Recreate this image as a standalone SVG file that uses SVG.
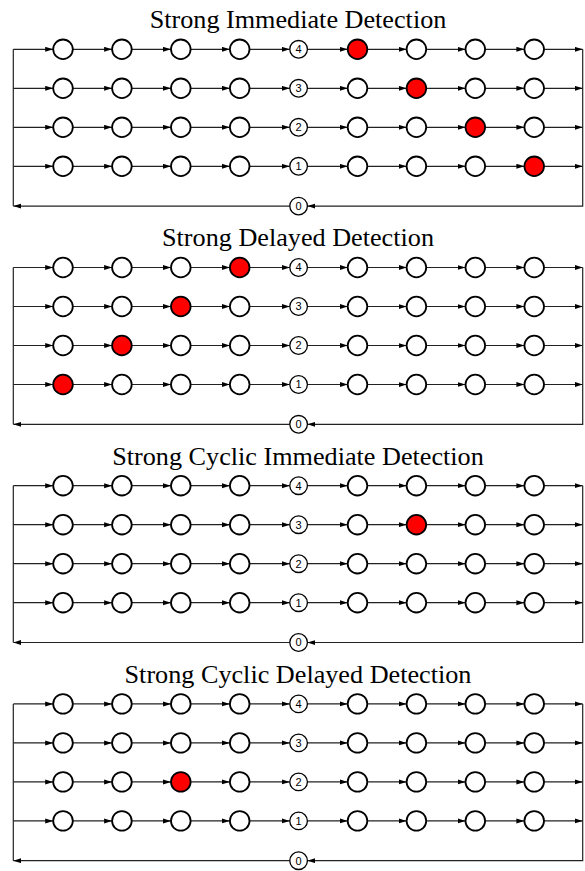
<svg xmlns="http://www.w3.org/2000/svg" width="585" height="871" viewBox="0 0 585 871">
<style>
.bg{fill:#fff}
.title{font-family:"Liberation Serif","Times New Roman",serif;font-size:26.2px;fill:#000;text-anchor:middle}
.n{fill:#fff;stroke:#000;stroke-width:1.8}
.red{fill:#ff0000;stroke:#000;stroke-width:1.8}
.num{fill:#fff;stroke:#000;stroke-width:1.3}
.lbl{font-family:"Liberation Sans",Arial,sans-serif;font-size:11px;fill:#000;text-anchor:middle}
.c path{stroke:#222;stroke-width:1.2;fill:none;marker-end:url(#arr)}
.c .plain{marker-end:none}
</style>
<defs>
<marker id="arr" markerUnits="userSpaceOnUse" markerWidth="9" markerHeight="6" refX="8" refY="2.5" orient="auto">
<path d="M0,0 L8,2.5 L0,5 Z" fill="#000"/>
</marker>
<g id="rowc" stroke="#222" stroke-width="1.2" fill="none" marker-end="url(#arr)">
<line x1="13.3" y1="0" x2="53.2" y2="0"/>
<line x1="72.8" y1="0" x2="112.1" y2="0"/>
<line x1="131.7" y1="0" x2="171" y2="0"/>
<line x1="190.6" y1="0" x2="229.9" y2="0"/>
<line x1="249.5" y1="0" x2="289.8" y2="0"/>
<line x1="307.4" y1="0" x2="347.7" y2="0"/>
<line x1="367.3" y1="0" x2="406.6" y2="0"/>
<line x1="426.2" y1="0" x2="465.5" y2="0"/>
<line x1="485.1" y1="0" x2="524.4" y2="0"/>
<line x1="544" y1="0" x2="582.7" y2="0"/>
</g>
</defs>
<rect class="bg" x="0" y="0" width="585" height="871"/>

<!-- Section 1 -->
<g id="sec1">
<text class="title" x="298" y="28.3">Strong Immediate Detection</text>
<g id="sec1-connectors" class="c">
<use href="#rowc" y="49.3"/>
<use href="#rowc" y="88.3"/>
<use href="#rowc" y="127.3"/>
<use href="#rowc" y="166.3"/>
<path d="M582.7,49.3 V206.1 H307.4"/>
<path d="M289.8,206.1 H13.3"/>
<path class="plain" d="M13.3,206.1 V49.3"/>
</g>
<g id="s1r1c0"><circle class="n" cx="63" cy="49.3" r="9.8"/></g>
<g id="s1r1c1"><circle class="n" cx="121.9" cy="49.3" r="9.8"/></g>
<g id="s1r1c2"><circle class="n" cx="180.8" cy="49.3" r="9.8"/></g>
<g id="s1r1c3"><circle class="n" cx="239.7" cy="49.3" r="9.8"/></g>
<g id="s1r1c4"><circle class="num" cx="298.6" cy="49.3" r="8.8"/><text class="lbl" x="298.6" y="53.3">4</text></g>
<g id="s1r1c5"><circle class="red" cx="357.5" cy="49.3" r="9.8"/></g>
<g id="s1r1c6"><circle class="n" cx="416.4" cy="49.3" r="9.8"/></g>
<g id="s1r1c7"><circle class="n" cx="475.3" cy="49.3" r="9.8"/></g>
<g id="s1r1c8"><circle class="n" cx="534.2" cy="49.3" r="9.8"/></g>
<g id="s1r2c0"><circle class="n" cx="63" cy="88.3" r="9.8"/></g>
<g id="s1r2c1"><circle class="n" cx="121.9" cy="88.3" r="9.8"/></g>
<g id="s1r2c2"><circle class="n" cx="180.8" cy="88.3" r="9.8"/></g>
<g id="s1r2c3"><circle class="n" cx="239.7" cy="88.3" r="9.8"/></g>
<g id="s1r2c4"><circle class="num" cx="298.6" cy="88.3" r="8.8"/><text class="lbl" x="298.6" y="92.3">3</text></g>
<g id="s1r2c5"><circle class="n" cx="357.5" cy="88.3" r="9.8"/></g>
<g id="s1r2c6"><circle class="red" cx="416.4" cy="88.3" r="9.8"/></g>
<g id="s1r2c7"><circle class="n" cx="475.3" cy="88.3" r="9.8"/></g>
<g id="s1r2c8"><circle class="n" cx="534.2" cy="88.3" r="9.8"/></g>
<g id="s1r3c0"><circle class="n" cx="63" cy="127.3" r="9.8"/></g>
<g id="s1r3c1"><circle class="n" cx="121.9" cy="127.3" r="9.8"/></g>
<g id="s1r3c2"><circle class="n" cx="180.8" cy="127.3" r="9.8"/></g>
<g id="s1r3c3"><circle class="n" cx="239.7" cy="127.3" r="9.8"/></g>
<g id="s1r3c4"><circle class="num" cx="298.6" cy="127.3" r="8.8"/><text class="lbl" x="298.6" y="131.3">2</text></g>
<g id="s1r3c5"><circle class="n" cx="357.5" cy="127.3" r="9.8"/></g>
<g id="s1r3c6"><circle class="n" cx="416.4" cy="127.3" r="9.8"/></g>
<g id="s1r3c7"><circle class="red" cx="475.3" cy="127.3" r="9.8"/></g>
<g id="s1r3c8"><circle class="n" cx="534.2" cy="127.3" r="9.8"/></g>
<g id="s1r4c0"><circle class="n" cx="63" cy="166.3" r="9.8"/></g>
<g id="s1r4c1"><circle class="n" cx="121.9" cy="166.3" r="9.8"/></g>
<g id="s1r4c2"><circle class="n" cx="180.8" cy="166.3" r="9.8"/></g>
<g id="s1r4c3"><circle class="n" cx="239.7" cy="166.3" r="9.8"/></g>
<g id="s1r4c4"><circle class="num" cx="298.6" cy="166.3" r="8.8"/><text class="lbl" x="298.6" y="170.3">1</text></g>
<g id="s1r4c5"><circle class="n" cx="357.5" cy="166.3" r="9.8"/></g>
<g id="s1r4c6"><circle class="n" cx="416.4" cy="166.3" r="9.8"/></g>
<g id="s1r4c7"><circle class="n" cx="475.3" cy="166.3" r="9.8"/></g>
<g id="s1r4c8"><circle class="red" cx="534.2" cy="166.3" r="9.8"/></g>
<g id="s1zero"><circle class="num" cx="298.6" cy="206.1" r="8.8"/><text class="lbl" x="298.6" y="210.1">0</text></g>
</g>

<!-- Section 2 -->
<g id="sec2" transform="translate(0,218.2)">
<text class="title" x="298" y="28.3">Strong Delayed Detection</text>
<g id="sec2-connectors" class="c">
<use href="#rowc" y="49.3"/>
<use href="#rowc" y="88.3"/>
<use href="#rowc" y="127.3"/>
<use href="#rowc" y="166.3"/>
<path d="M582.7,49.3 V206.1 H307.4"/>
<path d="M289.8,206.1 H13.3"/>
<path class="plain" d="M13.3,206.1 V49.3"/>
</g>
<g id="s2r1c0"><circle class="n" cx="63" cy="49.3" r="9.8"/></g>
<g id="s2r1c1"><circle class="n" cx="121.9" cy="49.3" r="9.8"/></g>
<g id="s2r1c2"><circle class="n" cx="180.8" cy="49.3" r="9.8"/></g>
<g id="s2r1c3"><circle class="red" cx="239.7" cy="49.3" r="9.8"/></g>
<g id="s2r1c4"><circle class="num" cx="298.6" cy="49.3" r="8.8"/><text class="lbl" x="298.6" y="53.3">4</text></g>
<g id="s2r1c5"><circle class="n" cx="357.5" cy="49.3" r="9.8"/></g>
<g id="s2r1c6"><circle class="n" cx="416.4" cy="49.3" r="9.8"/></g>
<g id="s2r1c7"><circle class="n" cx="475.3" cy="49.3" r="9.8"/></g>
<g id="s2r1c8"><circle class="n" cx="534.2" cy="49.3" r="9.8"/></g>
<g id="s2r2c0"><circle class="n" cx="63" cy="88.3" r="9.8"/></g>
<g id="s2r2c1"><circle class="n" cx="121.9" cy="88.3" r="9.8"/></g>
<g id="s2r2c2"><circle class="red" cx="180.8" cy="88.3" r="9.8"/></g>
<g id="s2r2c3"><circle class="n" cx="239.7" cy="88.3" r="9.8"/></g>
<g id="s2r2c4"><circle class="num" cx="298.6" cy="88.3" r="8.8"/><text class="lbl" x="298.6" y="92.3">3</text></g>
<g id="s2r2c5"><circle class="n" cx="357.5" cy="88.3" r="9.8"/></g>
<g id="s2r2c6"><circle class="n" cx="416.4" cy="88.3" r="9.8"/></g>
<g id="s2r2c7"><circle class="n" cx="475.3" cy="88.3" r="9.8"/></g>
<g id="s2r2c8"><circle class="n" cx="534.2" cy="88.3" r="9.8"/></g>
<g id="s2r3c0"><circle class="n" cx="63" cy="127.3" r="9.8"/></g>
<g id="s2r3c1"><circle class="red" cx="121.9" cy="127.3" r="9.8"/></g>
<g id="s2r3c2"><circle class="n" cx="180.8" cy="127.3" r="9.8"/></g>
<g id="s2r3c3"><circle class="n" cx="239.7" cy="127.3" r="9.8"/></g>
<g id="s2r3c4"><circle class="num" cx="298.6" cy="127.3" r="8.8"/><text class="lbl" x="298.6" y="131.3">2</text></g>
<g id="s2r3c5"><circle class="n" cx="357.5" cy="127.3" r="9.8"/></g>
<g id="s2r3c6"><circle class="n" cx="416.4" cy="127.3" r="9.8"/></g>
<g id="s2r3c7"><circle class="n" cx="475.3" cy="127.3" r="9.8"/></g>
<g id="s2r3c8"><circle class="n" cx="534.2" cy="127.3" r="9.8"/></g>
<g id="s2r4c0"><circle class="red" cx="63" cy="166.3" r="9.8"/></g>
<g id="s2r4c1"><circle class="n" cx="121.9" cy="166.3" r="9.8"/></g>
<g id="s2r4c2"><circle class="n" cx="180.8" cy="166.3" r="9.8"/></g>
<g id="s2r4c3"><circle class="n" cx="239.7" cy="166.3" r="9.8"/></g>
<g id="s2r4c4"><circle class="num" cx="298.6" cy="166.3" r="8.8"/><text class="lbl" x="298.6" y="170.3">1</text></g>
<g id="s2r4c5"><circle class="n" cx="357.5" cy="166.3" r="9.8"/></g>
<g id="s2r4c6"><circle class="n" cx="416.4" cy="166.3" r="9.8"/></g>
<g id="s2r4c7"><circle class="n" cx="475.3" cy="166.3" r="9.8"/></g>
<g id="s2r4c8"><circle class="n" cx="534.2" cy="166.3" r="9.8"/></g>
<g id="s2zero"><circle class="num" cx="298.6" cy="206.1" r="8.8"/><text class="lbl" x="298.6" y="210.1">0</text></g>
</g>

<!-- Section 3 -->
<g id="sec3" transform="translate(0,436.4)">
<text class="title" x="298" y="28.3">Strong Cyclic Immediate Detection</text>
<g id="sec3-connectors" class="c">
<use href="#rowc" y="49.3"/>
<use href="#rowc" y="88.3"/>
<use href="#rowc" y="127.3"/>
<use href="#rowc" y="166.3"/>
<path d="M582.7,49.3 V206.1 H307.4"/>
<path d="M289.8,206.1 H13.3"/>
<path class="plain" d="M13.3,206.1 V49.3"/>
</g>
<g id="s3r1c0"><circle class="n" cx="63" cy="49.3" r="9.8"/></g>
<g id="s3r1c1"><circle class="n" cx="121.9" cy="49.3" r="9.8"/></g>
<g id="s3r1c2"><circle class="n" cx="180.8" cy="49.3" r="9.8"/></g>
<g id="s3r1c3"><circle class="n" cx="239.7" cy="49.3" r="9.8"/></g>
<g id="s3r1c4"><circle class="num" cx="298.6" cy="49.3" r="8.8"/><text class="lbl" x="298.6" y="53.3">4</text></g>
<g id="s3r1c5"><circle class="n" cx="357.5" cy="49.3" r="9.8"/></g>
<g id="s3r1c6"><circle class="n" cx="416.4" cy="49.3" r="9.8"/></g>
<g id="s3r1c7"><circle class="n" cx="475.3" cy="49.3" r="9.8"/></g>
<g id="s3r1c8"><circle class="n" cx="534.2" cy="49.3" r="9.8"/></g>
<g id="s3r2c0"><circle class="n" cx="63" cy="88.3" r="9.8"/></g>
<g id="s3r2c1"><circle class="n" cx="121.9" cy="88.3" r="9.8"/></g>
<g id="s3r2c2"><circle class="n" cx="180.8" cy="88.3" r="9.8"/></g>
<g id="s3r2c3"><circle class="n" cx="239.7" cy="88.3" r="9.8"/></g>
<g id="s3r2c4"><circle class="num" cx="298.6" cy="88.3" r="8.8"/><text class="lbl" x="298.6" y="92.3">3</text></g>
<g id="s3r2c5"><circle class="n" cx="357.5" cy="88.3" r="9.8"/></g>
<g id="s3r2c6"><circle class="red" cx="416.4" cy="88.3" r="9.8"/></g>
<g id="s3r2c7"><circle class="n" cx="475.3" cy="88.3" r="9.8"/></g>
<g id="s3r2c8"><circle class="n" cx="534.2" cy="88.3" r="9.8"/></g>
<g id="s3r3c0"><circle class="n" cx="63" cy="127.3" r="9.8"/></g>
<g id="s3r3c1"><circle class="n" cx="121.9" cy="127.3" r="9.8"/></g>
<g id="s3r3c2"><circle class="n" cx="180.8" cy="127.3" r="9.8"/></g>
<g id="s3r3c3"><circle class="n" cx="239.7" cy="127.3" r="9.8"/></g>
<g id="s3r3c4"><circle class="num" cx="298.6" cy="127.3" r="8.8"/><text class="lbl" x="298.6" y="131.3">2</text></g>
<g id="s3r3c5"><circle class="n" cx="357.5" cy="127.3" r="9.8"/></g>
<g id="s3r3c6"><circle class="n" cx="416.4" cy="127.3" r="9.8"/></g>
<g id="s3r3c7"><circle class="n" cx="475.3" cy="127.3" r="9.8"/></g>
<g id="s3r3c8"><circle class="n" cx="534.2" cy="127.3" r="9.8"/></g>
<g id="s3r4c0"><circle class="n" cx="63" cy="166.3" r="9.8"/></g>
<g id="s3r4c1"><circle class="n" cx="121.9" cy="166.3" r="9.8"/></g>
<g id="s3r4c2"><circle class="n" cx="180.8" cy="166.3" r="9.8"/></g>
<g id="s3r4c3"><circle class="n" cx="239.7" cy="166.3" r="9.8"/></g>
<g id="s3r4c4"><circle class="num" cx="298.6" cy="166.3" r="8.8"/><text class="lbl" x="298.6" y="170.3">1</text></g>
<g id="s3r4c5"><circle class="n" cx="357.5" cy="166.3" r="9.8"/></g>
<g id="s3r4c6"><circle class="n" cx="416.4" cy="166.3" r="9.8"/></g>
<g id="s3r4c7"><circle class="n" cx="475.3" cy="166.3" r="9.8"/></g>
<g id="s3r4c8"><circle class="n" cx="534.2" cy="166.3" r="9.8"/></g>
<g id="s3zero"><circle class="num" cx="298.6" cy="206.1" r="8.8"/><text class="lbl" x="298.6" y="210.1">0</text></g>
</g>

<!-- Section 4 -->
<g id="sec4" transform="translate(0,654.6)">
<text class="title" x="298" y="28.3">Strong Cyclic Delayed Detection</text>
<g id="sec4-connectors" class="c">
<use href="#rowc" y="49.3"/>
<use href="#rowc" y="88.3"/>
<use href="#rowc" y="127.3"/>
<use href="#rowc" y="166.3"/>
<path d="M582.7,49.3 V206.1 H307.4"/>
<path d="M289.8,206.1 H13.3"/>
<path class="plain" d="M13.3,206.1 V49.3"/>
</g>
<g id="s4r1c0"><circle class="n" cx="63" cy="49.3" r="9.8"/></g>
<g id="s4r1c1"><circle class="n" cx="121.9" cy="49.3" r="9.8"/></g>
<g id="s4r1c2"><circle class="n" cx="180.8" cy="49.3" r="9.8"/></g>
<g id="s4r1c3"><circle class="n" cx="239.7" cy="49.3" r="9.8"/></g>
<g id="s4r1c4"><circle class="num" cx="298.6" cy="49.3" r="8.8"/><text class="lbl" x="298.6" y="53.3">4</text></g>
<g id="s4r1c5"><circle class="n" cx="357.5" cy="49.3" r="9.8"/></g>
<g id="s4r1c6"><circle class="n" cx="416.4" cy="49.3" r="9.8"/></g>
<g id="s4r1c7"><circle class="n" cx="475.3" cy="49.3" r="9.8"/></g>
<g id="s4r1c8"><circle class="n" cx="534.2" cy="49.3" r="9.8"/></g>
<g id="s4r2c0"><circle class="n" cx="63" cy="88.3" r="9.8"/></g>
<g id="s4r2c1"><circle class="n" cx="121.9" cy="88.3" r="9.8"/></g>
<g id="s4r2c2"><circle class="n" cx="180.8" cy="88.3" r="9.8"/></g>
<g id="s4r2c3"><circle class="n" cx="239.7" cy="88.3" r="9.8"/></g>
<g id="s4r2c4"><circle class="num" cx="298.6" cy="88.3" r="8.8"/><text class="lbl" x="298.6" y="92.3">3</text></g>
<g id="s4r2c5"><circle class="n" cx="357.5" cy="88.3" r="9.8"/></g>
<g id="s4r2c6"><circle class="n" cx="416.4" cy="88.3" r="9.8"/></g>
<g id="s4r2c7"><circle class="n" cx="475.3" cy="88.3" r="9.8"/></g>
<g id="s4r2c8"><circle class="n" cx="534.2" cy="88.3" r="9.8"/></g>
<g id="s4r3c0"><circle class="n" cx="63" cy="127.3" r="9.8"/></g>
<g id="s4r3c1"><circle class="n" cx="121.9" cy="127.3" r="9.8"/></g>
<g id="s4r3c2"><circle class="red" cx="180.8" cy="127.3" r="9.8"/></g>
<g id="s4r3c3"><circle class="n" cx="239.7" cy="127.3" r="9.8"/></g>
<g id="s4r3c4"><circle class="num" cx="298.6" cy="127.3" r="8.8"/><text class="lbl" x="298.6" y="131.3">2</text></g>
<g id="s4r3c5"><circle class="n" cx="357.5" cy="127.3" r="9.8"/></g>
<g id="s4r3c6"><circle class="n" cx="416.4" cy="127.3" r="9.8"/></g>
<g id="s4r3c7"><circle class="n" cx="475.3" cy="127.3" r="9.8"/></g>
<g id="s4r3c8"><circle class="n" cx="534.2" cy="127.3" r="9.8"/></g>
<g id="s4r4c0"><circle class="n" cx="63" cy="166.3" r="9.8"/></g>
<g id="s4r4c1"><circle class="n" cx="121.9" cy="166.3" r="9.8"/></g>
<g id="s4r4c2"><circle class="n" cx="180.8" cy="166.3" r="9.8"/></g>
<g id="s4r4c3"><circle class="n" cx="239.7" cy="166.3" r="9.8"/></g>
<g id="s4r4c4"><circle class="num" cx="298.6" cy="166.3" r="8.8"/><text class="lbl" x="298.6" y="170.3">1</text></g>
<g id="s4r4c5"><circle class="n" cx="357.5" cy="166.3" r="9.8"/></g>
<g id="s4r4c6"><circle class="n" cx="416.4" cy="166.3" r="9.8"/></g>
<g id="s4r4c7"><circle class="n" cx="475.3" cy="166.3" r="9.8"/></g>
<g id="s4r4c8"><circle class="n" cx="534.2" cy="166.3" r="9.8"/></g>
<g id="s4zero"><circle class="num" cx="298.6" cy="206.1" r="8.8"/><text class="lbl" x="298.6" y="210.1">0</text></g>
</g>
</svg>
